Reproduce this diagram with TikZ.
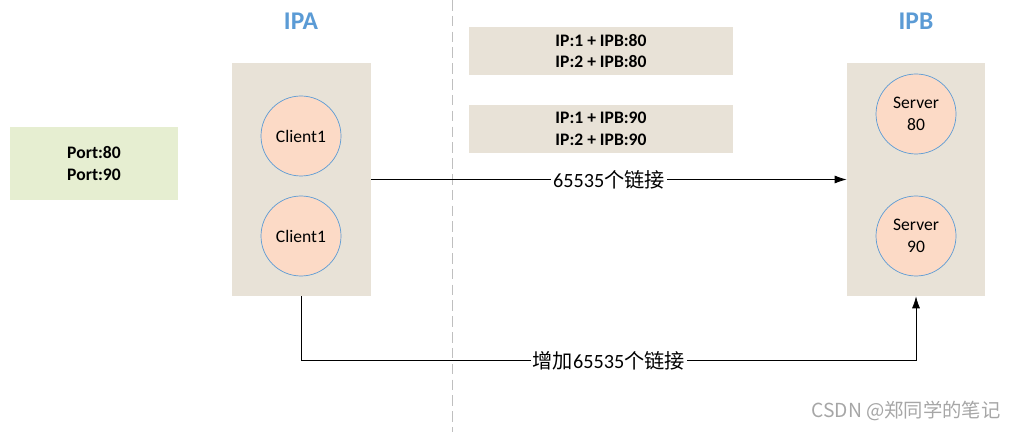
\documentclass[tikz,border=0pt]{standalone}
\usepackage{fontspec}
\setmainfont{Carlito}
\newfontfamily\cjk{Noto Sans CJK SC}
\usetikzlibrary{
    arrows.meta,
    positioning,
    calc
}
\definecolor{hostbg}{HTML}{E8E2D7}
\definecolor{portbg}{HTML}{E6EED1}
\definecolor{peach}{HTML}{FCDAC6}
\definecolor{ipblue}{HTML}{5B9BD5}
\tikzset{hostbox/.style={inner sep=0pt, rectangle, fill=hostbg, minimum width=2.78cm, minimum height=4.66cm}}
\tikzset{pairbox/.style={inner sep=0pt, rectangle, fill=hostbg, align=center, minimum width=5.28cm, minimum height=0.96cm, font=\bfseries\fontsize{10}{12.5}\selectfont}}
\tikzset{proc/.style={inner sep=0pt, circle, draw=ipblue, fill=peach, minimum size=1.6cm, align=center, font=\fontsize{10}{12.5}\selectfont}}
\tikzset{hostlbl/.style={text=ipblue, font=\bfseries\fontsize{14.5}{17}\selectfont}}
\tikzset{linklbl/.style={fill=white, inner sep=1pt, font=\fontsize{11.5}{13}\selectfont}}

\begin{document}
\begin{tikzpicture}
                        \useasboundingbox (0, 0) rectangle (20.24, -8.64);

                        \node[inner sep=0pt, fill=portbg, minimum width=3.36cm, minimum height=1.46cm, align=center,
                              font=\bfseries\fontsize{10}{12.5}\selectfont] (ports) at (1.88, -3.27) {Port:80\\Port:90};

                        \node[hostlbl] (lbla) at (6.02, -0.42) {IPA};
                        \node[hostlbl] (lblb) at (18.32, -0.42) {IPB};

                        \node[hostbox] (ipa) at (6.03, -3.59) {};
                        \node[hostbox, minimum width=2.76cm] (ipb) at (18.32, -3.59) {};

                        \node[proc] (cli1) at (6.02, -2.72) {Client1};
                        \node[proc] (cli2) at (6.02, -4.72) {Client1};
                        \node[proc] (srv80) at (18.32, -2.28) {Server\\80};
                        \node[proc] (srv90) at (18.32, -4.72) {Server\\90};

                        \node[pairbox] (pr80) at (12.02, -1.02) {IP:1 + IPB:80\\IP:2 + IPB:80};
                        \node[pairbox] (pr90) at (12.02, -2.58) {IP:1 + IPB:90\\IP:2 + IPB:90};

                        \coordinate (divtop) at (9.04, 0);
                        \coordinate (divbot) at (9.04, -8.64);
                        \draw[gray!50, dash pattern=on 6pt off 3pt] (divtop) -- (divbot);

                        \draw[-{Latex[length=2.4mm, width=1.6mm]}]
                        (ipa.east) -- node[linklbl] {65535{\cjk 个链接}} (ipb.west);

                        \draw[-{Latex[length=2.4mm, width=1.6mm]}]
                        (ipa.south) -- ++(0, -1.28) -| node[linklbl, pos=0.25] {{\cjk 增加}65535{\cjk 个链接}} (ipb.south);

                        \node[text=gray!70, font=\cjk\fontsize{11}{13}\selectfont] (mark) at (18.12, -8.22) {CSDN @郑同学的笔记};
                    \end{tikzpicture}
\end{document}
